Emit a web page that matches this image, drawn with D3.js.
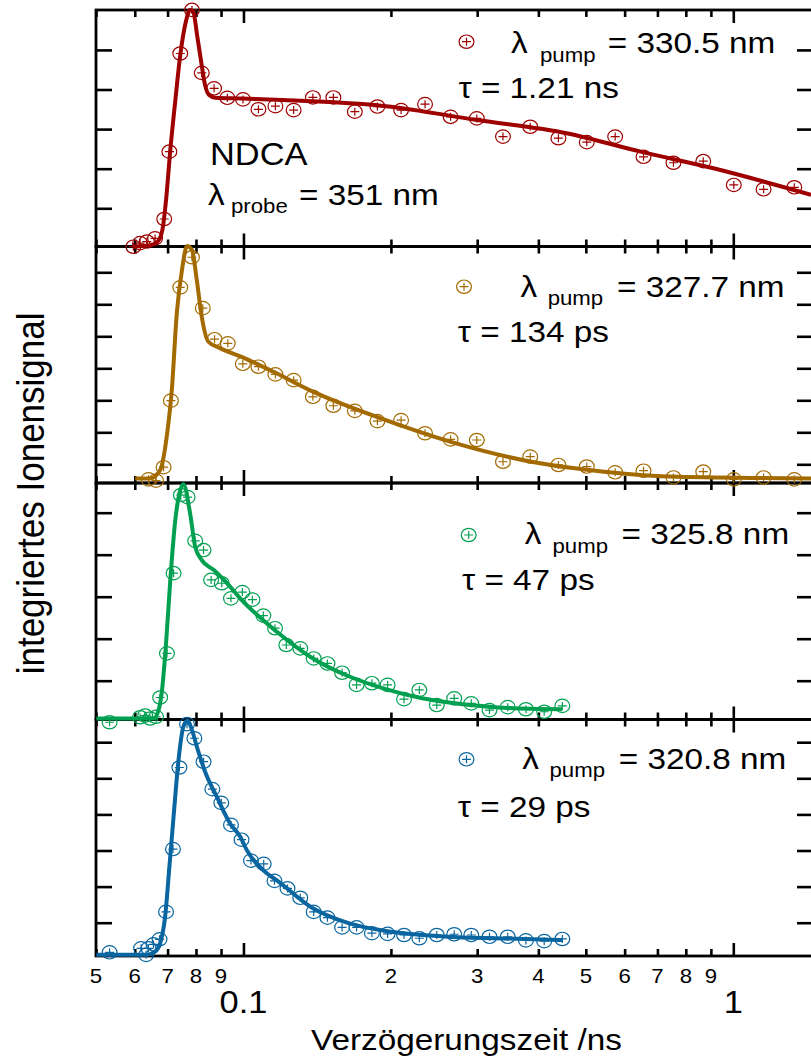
<!DOCTYPE html>
<html><head><meta charset="utf-8">
<script src="https://cdn.jsdelivr.net/npm/d3@7"></script>
<style>body{margin:0;background:#fff} svg{display:block}</style>
</head><body><svg id="c" width="811" height="1060"></svg>
<script>
// ---------------- data ----------------
const xDomain = [0.05, 1.4545];
const xMinorTicks = [0.05,0.06,0.07,0.08,0.09,0.2,0.3,0.4,0.5,0.6,0.7,0.8,0.9];
const xMinorLabels = ["5","6","7","8","9","2","3","4","5","6","7","8","9"];
const xMajorTicks = [0.1, 1];
const xMajorLabels = ["0.1","1"];
const xTitle = "Verzögerungszeit /ns";
const yTitle = "integriertes Ionensignal";

const pumpLabels = ["= 330.5 nm","= 327.7 nm","= 325.8 nm","= 320.8 nm"];
const tauLabels = ["τ = 1.21 ns","τ = 134 ps","τ = 47 ps","τ = 29 ps"];
const sampleName = "NDCA";
const probeLabel = "= 351 nm";

const yDomains = [[0.035,6.008],[0.416,7.806],[0.076,5.707],[0.078,6.629]];
const yTickValues = [[1,2,3,4,5],[1,2,3,4,5,6,7],[1,2,3,4,5],[1,2,3,4,5,6]];

// 330.5 nm
const p1Time = [0.0596,0.0615,0.0635,0.0660,0.0689,0.0706,0.0743,0.0785,0.0822,0.0871,0.0927,0.0998,0.1073,0.1162,0.1266,0.1386,0.1526,0.1688,0.1877,0.2098,0.2348,0.2648,0.2995,0.3387,0.3850,0.4395,0.5022,0.5739,0.6557,0.7548,0.8683,1.0023,1.153,1.332];
const p1Signal = [0.03,0.12,0.16,0.24,0.73,2.43,4.91,6.01,4.42,4.03,3.79,3.75,3.50,3.58,3.48,3.80,3.80,3.44,3.57,3.48,3.63,3.31,3.27,2.81,3.06,2.77,2.67,2.81,2.30,2.15,2.19,1.59,1.48,1.53];
const p1FitTime = [0.0596,0.0645,0.0667,0.0683,0.0695,0.0709,0.0726,0.0743,0.0764,0.0778,0.0790,0.0804,0.0820,0.0835,0.0851,0.0876,0.0994,0.1953,0.2995,0.4592,0.6469,0.9109,1.441];
const p1FitSignal = [0.035,0.07,0.15,0.45,1.21,2.47,3.73,4.87,5.75,6.01,5.96,5.38,4.69,4.11,3.86,3.79,3.77,3.58,3.23,2.89,2.43,2.01,1.34];

// 327.7 nm
const p2Time = [0.0640,0.0663,0.0687,0.0711,0.0743,0.0785,0.0826,0.0873,0.0929,0.0997,0.1073,0.1162,0.1266,0.1386,0.1526,0.1688,0.1877,0.2098,0.2348,0.2648,0.2995,0.3387,0.3850,0.4395,0.5022,0.5739,0.6557,0.7548,0.8683,1.0023,1.153,1.332];
const p2Signal = [0.53,0.49,0.91,2.99,6.53,7.47,5.88,4.91,4.78,4.14,4.05,3.81,3.63,3.11,2.83,2.67,2.35,2.38,1.97,1.78,1.76,1.08,1.24,0.98,0.93,0.75,0.80,0.59,0.77,0.53,0.59,0.53];
const p2FitTime = [0.0601,0.0645,0.0676,0.0700,0.0714,0.0731,0.0749,0.0767,0.0785,0.0803,0.0822,0.0848,0.0896,0.0994,0.1151,0.1386,0.1953,0.2749,0.3870,0.5451,0.7677,1.441];
const p2FitSignal = [0.56,0.56,0.82,2.07,3.32,5.72,7.07,7.82,7.70,6.76,5.61,4.83,4.63,4.35,3.89,3.27,2.38,1.63,1.08,0.77,0.61,0.56];

// 325.8 nm
const p3Time = [0.0533,0.0615,0.0630,0.0645,0.0663,0.0676,0.0698,0.0720,0.0745,0.0769,0.0797,0.0829,0.0859,0.0903,0.0943,0.0995,0.1043,0.1098,0.1160,0.1223,0.1306,0.1391,0.1484,0.1590,0.1702,0.1829,0.1969,0.2127,0.2286,0.2481,0.2693,0.2918,0.3179,0.3463,0.3773,0.4111,0.4477];
const p3Signal = [0.01,0.13,0.17,0.10,0.14,0.60,1.65,3.56,5.42,5.37,4.33,4.11,3.40,3.32,2.96,3.11,2.93,2.55,2.25,1.85,1.77,1.53,1.41,1.19,0.90,0.94,0.90,0.56,0.78,0.42,0.58,0.46,0.30,0.37,0.32,0.26,0.40];
const p3FitTime = [0.0501,0.0655,0.0671,0.0682,0.0695,0.0709,0.0726,0.0743,0.0754,0.0778,0.0797,0.0822,0.0869,0.0939,0.0985,0.1168,0.1386,0.1645,0.1953,0.2317,0.2749,0.3263,0.3870,0.4477];
const p3FitSignal = [0.10,0.10,0.30,0.78,1.89,3.40,4.83,5.54,5.68,4.99,4.19,3.87,3.64,3.24,2.96,2.17,1.53,1.10,0.80,0.58,0.45,0.37,0.33,0.32];

// 320.8 nm
const p4Time = [0.0533,0.0618,0.0633,0.0640,0.0655,0.0674,0.0695,0.0718,0.0740,0.0767,0.0794,0.0829,0.0864,0.0901,0.0943,0.0991,0.1036,0.1100,0.1157,0.1230,0.1306,0.1391,0.1484,0.1590,0.1702,0.1829,0.1969,0.2127,0.2286,0.2481,0.2693,0.2918,0.3179,0.3463,0.3773,0.4111,0.4477];
const p4Signal = [0.18,0.29,0.11,0.29,0.40,0.54,1.30,3.04,5.30,6.50,6.11,5.46,4.70,4.32,3.71,3.30,2.72,2.63,2.16,1.95,1.69,1.30,1.14,0.87,0.87,0.71,0.69,0.66,0.57,0.66,0.68,0.66,0.61,0.61,0.51,0.49,0.55];
const p4FitTime = [0.0501,0.0635,0.0660,0.0676,0.0692,0.0706,0.0720,0.0737,0.0754,0.0769,0.0785,0.0803,0.0835,0.0882,0.0939,0.0985,0.1016,0.1116,0.1168,0.1386,0.1645,0.1953,0.2317,0.2749,0.3263,0.4477];
const p4FitSignal = [0.11,0.11,0.20,0.43,1.17,2.55,3.94,5.51,6.43,6.60,6.34,5.88,5.18,4.49,3.75,3.38,3.01,2.37,2.18,1.40,0.98,0.77,0.66,0.60,0.57,0.52];

// ---------------- layout / style ----------------
const colors = ["#9e0000","#a36a00","#00a050","#0a66a0"];
const panelEdges = [10, 246.5, 483, 719.5, 956];
const L = 96, R = 813;
const SX = 1.11; // horizontal stretch of the reference image
const FONT = "'Liberation Sans', Arial, Helvetica, sans-serif";
const legendLayout = [
  {mx:466.5,my:41.7, lx:511,  ly:52.7, px:540,  py:61.7, ex:607.8, tx:458.5, ty:98.3},
  {mx:464,  my:286.7,lx:520.4,ly:296.7,px:547.7,py:305,  ex:617,   tx:457.8, ty:341.7},
  {mx:468.7,my:535,  lx:524.8,ly:544,  px:552.5,py:552.7,ex:621.6, tx:462,   ty:590},
  {mx:466.5,my:759.3,lx:522.2,ly:769,  px:549.5,py:776.7,ex:618.7, tx:457.8, ty:816.7}
];

const series = [
  {t:p1Time,v:p1Signal,ft:p1FitTime,fv:p1FitSignal},
  {t:p2Time,v:p2Signal,ft:p2FitTime,fv:p2FitSignal},
  {t:p3Time,v:p3Signal,ft:p3FitTime,fv:p3FitSignal},
  {t:p4Time,v:p4Signal,ft:p4FitTime,fv:p4FitSignal}
];

const svg = d3.select("#c").attr("font-family", FONT);
const x = d3.scaleLog().domain(xDomain).range([L, R]);

function stext(parent, px, py, str, size, anchor, rot) {
  return parent.append("text")
    .attr("transform", `translate(${px},${py}) scale(${SX},1)` + (rot ? ` rotate(${rot})` : ""))
    .attr("font-size", size)
    .attr("text-anchor", anchor || "start")
    .attr("fill", "#000")
    .text(str);
}
function marker(g, cx, cy, col) {
  const m = g.append("g").attr("transform", `translate(${cx},${cy})`);
  m.append("ellipse").attr("rx", 7.4).attr("ry", 6.7)
    .attr("fill", "none").attr("stroke", col).attr("stroke-width", 1.2);
  m.append("path").attr("d", "M-4.5,0H4.5M0,-4V4")
    .attr("stroke", col).attr("stroke-width", 1.2).attr("fill", "none");
}
function styleAxis(sel) {
  sel.select(".domain").remove();
  sel.selectAll(".tick line").attr("stroke", "#000").attr("stroke-width", 2.6);
  sel.selectAll(".tick text").remove();
}

const gAxes = svg.append("g");
const gData = svg.append("g");

series.forEach((s, i) => {
  const top = panelEdges[i], bottom = panelEdges[i+1];
  const y = d3.scaleLinear().domain(yDomains[i]).range([bottom, top]);
  const col = colors[i];

  // ticks
  gAxes.append("g").attr("transform", `translate(${L},0)`)
    .call(d3.axisLeft(y).tickValues(yTickValues[i]).tickSize(-16)).call(styleAxis);
  gAxes.append("g").attr("transform", `translate(${R},0)`)
    .call(d3.axisRight(y).tickValues(yTickValues[i]).tickSize(-16)).call(styleAxis);
  gAxes.append("g").attr("transform", `translate(0,${bottom})`)
    .call(d3.axisBottom(x).tickValues(xMinorTicks).tickSize(-7)).call(styleAxis);
  gAxes.append("g").attr("transform", `translate(0,${bottom})`)
    .call(d3.axisBottom(x).tickValues(xMajorTicks).tickSize(-13)).call(styleAxis);
  gAxes.append("g").attr("transform", `translate(0,${top})`)
    .call(d3.axisTop(x).tickValues(xMinorTicks).tickSize(-7)).call(styleAxis);
  gAxes.append("g").attr("transform", `translate(0,${top})`)
    .call(d3.axisTop(x).tickValues(xMajorTicks).tickSize(-13)).call(styleAxis);
  // frame
  gAxes.append("rect").attr("x", L).attr("y", top).attr("width", R - L).attr("height", bottom - top)
    .attr("fill", "none").attr("stroke", "#000").attr("stroke-width", 2.8);

  // fit line
  const fit = s.ft.map((t, k) => [t, s.fv[k]]);
  gData.append("path").datum(fit)
    .attr("d", d3.line().x(d => x(d[0])).y(d => y(d[1])).curve(d3.curveMonotoneX))
    .attr("fill", "none").attr("stroke", col).attr("stroke-width", 4)
    .attr("stroke-linejoin", "round").attr("stroke-linecap", "butt");

  // points
  s.t.forEach((t, k) => marker(gData, x(t), y(s.v[k]), col));

  // legend
  const lay = legendLayout[i];
  marker(gData, lay.mx, lay.my, col);
  stext(svg, lay.lx, lay.ly, "λ", 30);
  stext(svg, lay.px, lay.py, "pump", 20);
  stext(svg, lay.ex, lay.ly, pumpLabels[i], 30);
  stext(svg, lay.tx, lay.ty, tauLabels[i], 30);
});

// sample annotation
stext(svg, 210, 165, sampleName, 31);
stext(svg, 208, 205, "λ", 30);
stext(svg, 231, 213, "probe", 20);
stext(svg, 299, 205, probeLabel, 30);

// x tick labels
xMinorTicks.forEach((t, k) => stext(svg, x(t), 982.7, xMinorLabels[k], 20, "middle"));
xMajorTicks.forEach((t, k) => stext(svg, x(t), 1012.5, xMajorLabels[k], 31, "middle"));

// axis titles
stext(svg, 466.5, 1050, xTitle, 30, "middle");
stext(svg, 44, 493.4, yTitle, 35, "middle", -90);
</script></body></html>
